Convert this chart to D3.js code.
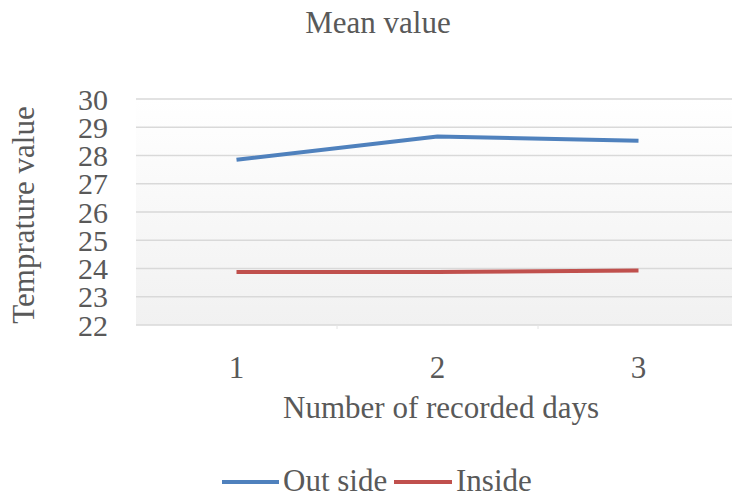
<!DOCTYPE html>
<html>
<head>
<meta charset="utf-8">
<script src="https://cdn.jsdelivr.net/npm/d3@7"></script>
<style>
  html, body { margin: 0; padding: 0; background: #fff; }
  svg { display: block; }
  text { font-family: "Liberation Serif", "Times New Roman", serif; fill: #595959; }
</style>
</head>
<body>
<svg id="chart" width="732" height="497"></svg>
<script>
// Mean temperature per recorded day
const days = [1, 2, 3];
const outSide = [27.85, 28.67, 28.52];
const inside = [23.88, 23.88, 23.93];
const yTicks = [22, 23, 24, 25, 26, 27, 28, 29, 30];
const seriesNames = ["Out side", "Inside"];
const seriesColors = ["#4f81bd", "#c0504d"];

const svg = d3.select("#chart");
const plot = { left: 136, right: 739, top: 99, bottom: 325 };

const x = d3.scaleBand().domain(days).range([plot.left, plot.right]);
const y = d3.scaleLinear().domain([22, 30]).range([plot.bottom, plot.top]);

// plot area background: soft vertical gradient
const defs = svg.append("defs");
const grad = defs.append("linearGradient").attr("id", "bg").attr("x1", 0).attr("y1", 0).attr("x2", 0).attr("y2", 1);
grad.append("stop").attr("offset", "0%").attr("stop-color", "#ffffff");
grad.append("stop").attr("offset", "100%").attr("stop-color", "#f1f1f1");
svg.append("rect")
  .attr("x", plot.left).attr("y", plot.top)
  .attr("width", plot.right - plot.left).attr("height", plot.bottom - plot.top)
  .attr("fill", "url(#bg)");

// horizontal gridlines
svg.append("g").selectAll("line").data(yTicks).join("line")
  .attr("x1", plot.left).attr("x2", plot.right)
  .attr("y1", d => y(d)).attr("y2", d => y(d))
  .attr("stroke", "#d9d9d9").attr("stroke-width", 1.5);

// small category ticks on the baseline
svg.append("g").selectAll("line").data(days.slice(1)).join("line")
  .attr("x1", d => x(d)).attr("x2", d => x(d))
  .attr("y1", plot.bottom).attr("y2", plot.bottom + 4)
  .attr("stroke", "#e4e4e4").attr("stroke-width", 1);

// y axis labels
const yAxis = d3.axisLeft(y).tickValues(yTicks).tickSize(0).tickPadding(0);
svg.append("g").attr("transform", "translate(108,0)").call(yAxis)
  .call(g => g.select(".domain").remove())
  .selectAll("text")
  .attr("font-size", 30).attr("font-family", "Liberation Serif").attr("fill", "#595959")
  .attr("dy", "0.34em");

// x axis labels
const xAxis = d3.axisBottom(x).tickSize(0).tickPadding(0);
svg.append("g").attr("transform", "translate(0,378)").call(xAxis)
  .call(g => g.select(".domain").remove())
  .selectAll("text")
  .attr("font-size", 31).attr("font-family", "Liberation Serif").attr("fill", "#595959")
  .attr("dy", 0);

// series lines
const line = d3.line().x((d, i) => x(days[i]) + x.bandwidth() / 2).y(d => y(d));
[outSide, inside].forEach((vals, i) => {
  svg.append("path").datum(vals)
    .attr("d", line)
    .attr("fill", "none")
    .attr("stroke", seriesColors[i])
    .attr("stroke-width", 4)
    .attr("stroke-linejoin", "round");
});

// titles
svg.append("text").attr("x", 378).attr("y", 33).attr("text-anchor", "middle")
  .attr("font-size", 31).text("Mean value");
svg.append("text").attr("x", 441).attr("y", 418).attr("text-anchor", "middle")
  .attr("font-size", 31).text("Number of recorded days");
svg.append("text").attr("transform", "translate(34,215) rotate(-90)").attr("text-anchor", "middle")
  .attr("font-size", 31).text("Temprature value");

// legend
const legendItems = [
  { name: seriesNames[0], color: seriesColors[0], x1: 222, x2: 279, tx: 283 },
  { name: seriesNames[1], color: seriesColors[1], x1: 394, x2: 452, tx: 456 }
];
const lg = svg.append("g");
legendItems.forEach(it => {
  lg.append("line").attr("x1", it.x1).attr("x2", it.x2).attr("y1", 482).attr("y2", 482)
    .attr("stroke", it.color).attr("stroke-width", 4);
  lg.append("text").attr("x", it.tx).attr("y", 491).attr("font-size", 31).text(it.name);
});
</script>
</body>
</html>
